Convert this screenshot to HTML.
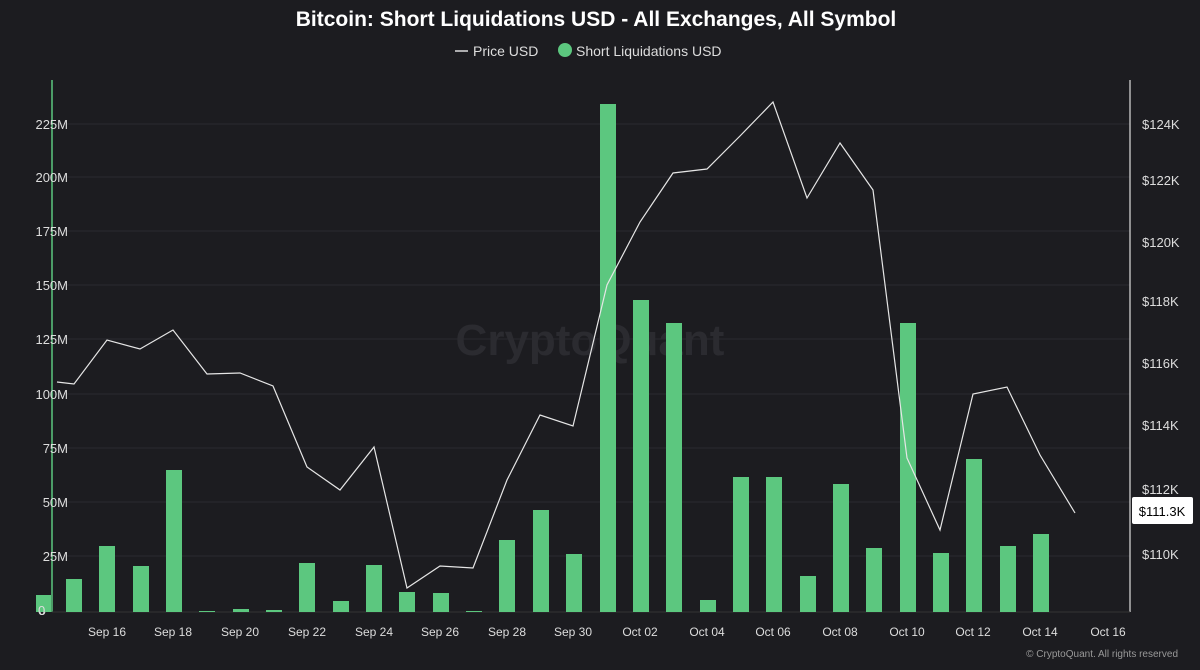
<!DOCTYPE html>
<html><head><meta charset="utf-8"><style>
body{margin:0;background:#1c1c20;}
svg{display:block;font-family:"Liberation Sans",sans-serif;}
</style></head><body>
<svg width="1200" height="670" viewBox="0 0 1200 670" xmlns="http://www.w3.org/2000/svg">
<rect width="1200" height="670" fill="#1c1c20"/>
<text x="596" y="26" text-anchor="middle" fill="#fff" font-size="21" font-weight="bold">Bitcoin: Short Liquidations USD - All Exchanges, All Symbol</text>
<line x1="455" y1="51" x2="468" y2="51" stroke="#ddd" stroke-width="1.5"/>
<text x="473" y="56" fill="#ddd" font-size="14">Price USD</text>
<circle cx="565" cy="50" r="7" fill="#5cc77f"/>
<text x="576" y="56" fill="#ddd" font-size="14">Short Liquidations USD</text>
<g stroke="#2a2a30" stroke-width="1">
<line x1="52" y1="124" x2="1130" y2="124"/><line x1="52" y1="177" x2="1130" y2="177"/><line x1="52" y1="231" x2="1130" y2="231"/><line x1="52" y1="285" x2="1130" y2="285"/><line x1="52" y1="339" x2="1130" y2="339"/><line x1="52" y1="394" x2="1130" y2="394"/><line x1="52" y1="448" x2="1130" y2="448"/><line x1="52" y1="502" x2="1130" y2="502"/><line x1="52" y1="556" x2="1130" y2="556"/>
</g>
<line x1="52" y1="80" x2="52" y2="612" stroke="#5cc77f" stroke-width="1.5"/>
<line x1="1130" y1="80" x2="1130" y2="612" stroke="#ddd" stroke-width="1.2"/>
<line x1="52" y1="612" x2="1130" y2="612" stroke="#333" stroke-width="1"/>
<text x="590" y="355" text-anchor="middle" fill="#2b2b30" font-size="44" font-weight="bold">CryptoQuant</text>
<g fill="#ddd" font-size="13" text-anchor="end">
<text x="68" y="129">225M</text><text x="68" y="182">200M</text><text x="68" y="236">175M</text><text x="68" y="290">150M</text><text x="68" y="344">125M</text><text x="68" y="399">100M</text><text x="68" y="453">75M</text><text x="68" y="507">50M</text><text x="68" y="561">25M</text><text x="46" y="615">0</text>
</g>
<g fill="#ddd" font-size="13">
<text x="1142" y="129">$124K</text><text x="1142" y="185">$122K</text><text x="1142" y="247">$120K</text><text x="1142" y="306">$118K</text><text x="1142" y="368">$116K</text><text x="1142" y="430">$114K</text><text x="1142" y="494">$112K</text><text x="1142" y="559">$110K</text>
</g>
<g fill="#5cc77f" id="bars">
<rect x="36" y="595" width="15" height="17"/>
<rect x="66" y="579" width="16" height="33"/>
<rect x="99" y="546" width="16" height="66"/>
<rect x="133" y="566" width="16" height="46"/>
<rect x="166" y="470" width="16" height="142"/>
<rect x="199" y="611" width="16" height="1"/>
<rect x="233" y="609" width="16" height="3"/>
<rect x="266" y="610" width="16" height="2"/>
<rect x="299" y="563" width="16" height="49"/>
<rect x="333" y="601" width="16" height="11"/>
<rect x="366" y="565" width="16" height="47"/>
<rect x="399" y="592" width="16" height="20"/>
<rect x="433" y="593" width="16" height="19"/>
<rect x="466" y="611" width="16" height="1"/>
<rect x="499" y="540" width="16" height="72"/>
<rect x="533" y="510" width="16" height="102"/>
<rect x="566" y="554" width="16" height="58"/>
<rect x="600" y="104" width="16" height="508"/>
<rect x="633" y="300" width="16" height="312"/>
<rect x="666" y="323" width="16" height="289"/>
<rect x="700" y="600" width="16" height="12"/>
<rect x="733" y="477" width="16" height="135"/>
<rect x="766" y="477" width="16" height="135"/>
<rect x="800" y="576" width="16" height="36"/>
<rect x="833" y="484" width="16" height="128"/>
<rect x="866" y="548" width="16" height="64"/>
<rect x="900" y="323" width="16" height="289"/>
<rect x="933" y="553" width="16" height="59"/>
<rect x="966" y="459" width="16" height="153"/>
<rect x="1000" y="546" width="16" height="66"/>
<rect x="1033" y="534" width="16" height="78"/>
</g>
<text x="38" y="615" fill="#ddd" font-size="13">0</text>
<polyline fill="none" stroke="#e6e6e6" stroke-width="1.2" points="57,382 74,384 107,340 140,349 173,330 207,374 240,373 273,386 307,467 340,490 374,447 407,588 440,566 473,568 507,480 540,415 573,426 607,285 640,222 673,173 707,169 740,136 773,102 807,198 840,143 873,190 907,458 940,530 973,394 1007,387 1040,455 1075,513"/>
<rect x="1132" y="497" width="61" height="27" fill="#fff" rx="2"/>
<text x="1162" y="516" text-anchor="middle" fill="#000" font-size="13">$111.3K</text>
<g fill="#ddd" font-size="12" text-anchor="middle">
<text x="107" y="636">Sep 16</text><text x="173" y="636">Sep 18</text><text x="240" y="636">Sep 20</text><text x="307" y="636">Sep 22</text><text x="374" y="636">Sep 24</text><text x="440" y="636">Sep 26</text><text x="507" y="636">Sep 28</text><text x="573" y="636">Sep 30</text><text x="640" y="636">Oct 02</text><text x="707" y="636">Oct 04</text><text x="773" y="636">Oct 06</text><text x="840" y="636">Oct 08</text><text x="907" y="636">Oct 10</text><text x="973" y="636">Oct 12</text><text x="1040" y="636">Oct 14</text><text x="1108" y="636">Oct 16</text>
</g>
<text x="1178" y="657" text-anchor="end" fill="#999" font-size="10">© CryptoQuant. All rights reserved</text>
</svg>
</body></html>
